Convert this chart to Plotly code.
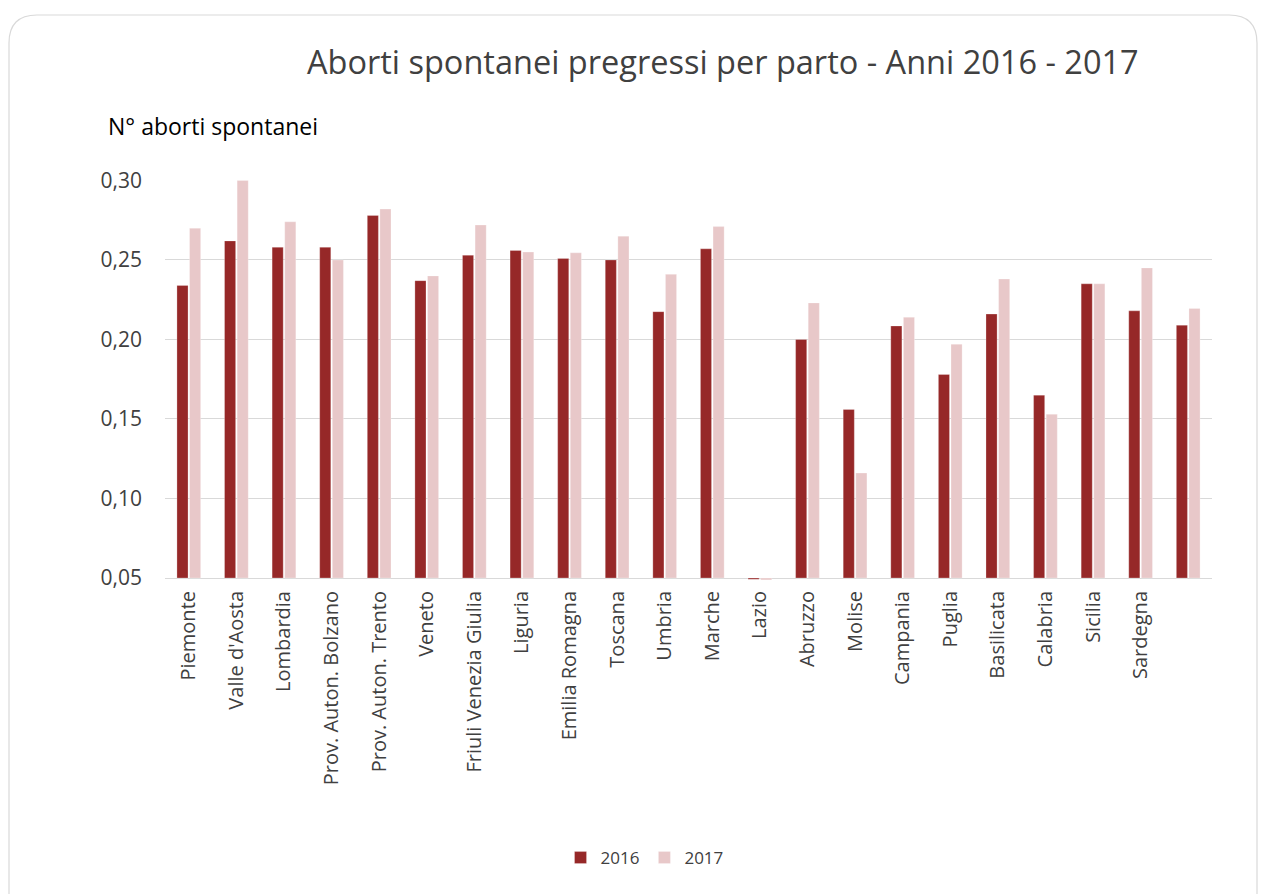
import plotly.graph_objects as go

categories = ["Piemonte", "Valle d'Aosta", "Lombardia", "Prov. Auton. Bolzano",
              "Prov. Auton. Trento", "Veneto", "Friuli Venezia Giulia", "Liguria",
              "Emilia Romagna", "Toscana", "Umbria", "Marche", "Lazio", "Abruzzo",
              "Molise", "Campania", "Puglia", "Basilicata", "Calabria", "Sicilia",
              "Sardegna", " "]
values_2016 = [0.234, 0.262, 0.258, 0.258, 0.278, 0.237, 0.253, 0.256, 0.251, 0.250,
               0.2175, 0.257, 0.0492, 0.200, 0.156, 0.2085, 0.178, 0.216, 0.165, 0.235,
               0.218, 0.209]
values_2017 = [0.270, 0.300, 0.274, 0.250, 0.282, 0.240, 0.272, 0.255, 0.2545, 0.265,
               0.241, 0.271, 0.0488, 0.223, 0.116, 0.214, 0.197, 0.238, 0.153, 0.235,
               0.245, 0.2195]
series_names = ["2016", "2017"]
axis_cross = 0.05
y_ticks = [0.05, 0.10, 0.15, 0.20, 0.25, 0.30]

W, H = 1266, 894
ML, MR, MT, MB = 165, 54, 180, 313
PW, PH = W - ML - MR, H - MT - MB
FONT = "'Open Sans', 'Noto Sans', sans-serif"

fig = go.Figure()
for name, vals, col in [(series_names[0], values_2016, "#962828"),
                        (series_names[1], values_2017, "#E8C8C9")]:
    fig.add_trace(go.Bar(
        name=name, x=categories, y=[v - axis_cross for v in vals], base=axis_cross,
        marker=dict(color=col, line=dict(color="rgba(255,255,255,0.5)", width=0.5)),
        customdata=vals, hovertemplate="%{x}: %{customdata:.3f}<extra>" + name + "</extra>",
    ))

def px_x(p):
    return (p - ML) / PW

def px_y(p):
    return (H - MB - p) / PH

# rounded border of the chart area
x0, x1, y0, y1, r = 9, 1257, 15, 900, 28
path = (f"M {px_x(x0)},{px_y(y0 + r)} "
        f"Q {px_x(x0)},{px_y(y0)} {px_x(x0 + r)},{px_y(y0)} "
        f"L {px_x(x1 - r)},{px_y(y0)} "
        f"Q {px_x(x1)},{px_y(y0)} {px_x(x1)},{px_y(y0 + r)} "
        f"L {px_x(x1)},{px_y(y1)} L {px_x(x0)},{px_y(y1)} Z")

fig.update_layout(
    width=W, height=H,
    margin=dict(l=ML, r=MR, t=MT, b=MB, autoexpand=False),
    paper_bgcolor="white", plot_bgcolor="white",
    separators=",.",
    font=dict(family=FONT, color="#404040", size=16),
    barmode="group", bargap=0.47, bargroupgap=0.12,
    showlegend=True,
    legend=dict(orientation="h", x=0.458, xanchor="center", y=px_y(858), yanchor="middle",
                font=dict(size=17, color="#404040"), itemwidth=30, traceorder="normal"),
    shapes=[dict(type="path", path=path, xref="paper", yref="paper",
                 line=dict(color="#D9D9D9", width=1.2), fillcolor="rgba(0,0,0,0)",
                 layer="below")],
    annotations=[
        dict(text="Aborti spontanei pregressi per parto - Anni 2016 - 2017",
             xref="paper", yref="paper", x=px_x(723), y=px_y(62),
             xanchor="center", yanchor="middle", showarrow=False,
             font=dict(size=32.5, color="#404040")),
        dict(text="N° aborti spontanei", xref="paper", yref="paper",
             x=px_x(106), y=px_y(126), xanchor="left", yanchor="middle",
             showarrow=False, font=dict(size=23, color="#000000")),
    ],
)
fig.update_xaxes(tickangle=-90, showline=False, showgrid=False, ticks="",
                 tickfont=dict(size=20, color="#404040"), categoryorder="array",
                 categoryarray=categories, ticklabelstandoff=5)
fig.update_yaxes(range=[0.30 - PH / 1592.0, 0.3003], tickvals=y_ticks, tickformat=".2f",
                 showgrid=True, gridcolor="#D9D9D9", gridwidth=1.3, zeroline=False,
                 showline=False, ticks="", tickfont=dict(size=21, color="#404040"),
                 ticklabelstandoff=22)

fig.write_html("out.html", config={"displayModeBar": False},
               post_script="document.body.style.margin='0';document.body.style.overflow='hidden';")
